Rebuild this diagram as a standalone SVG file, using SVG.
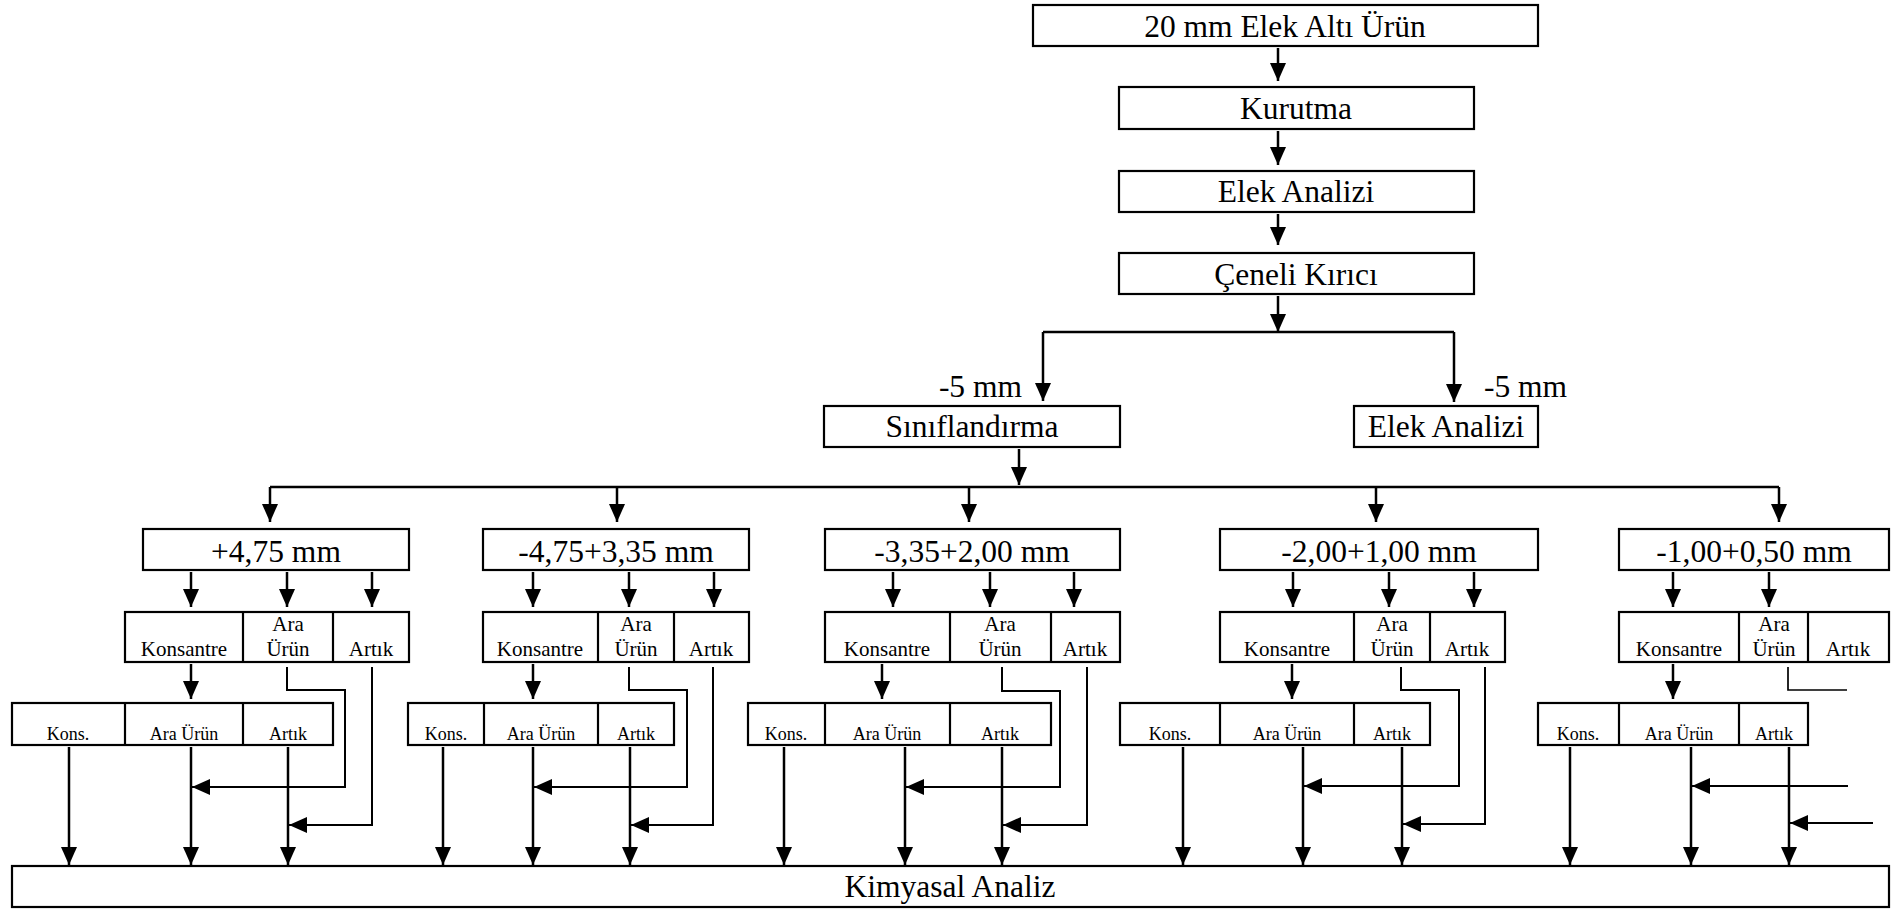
<svg xmlns="http://www.w3.org/2000/svg" width="1903" height="911" viewBox="0 0 1903 911">
  <defs>
    <marker id="ah" viewBox="0 0 18 16" refX="18" refY="8" markerWidth="18" markerHeight="16" markerUnits="userSpaceOnUse" orient="auto">
      <path d="M0,0 L18,8 L0,16 z" fill="#000"/>
    </marker>
    <style>
      .box { fill: #fff; stroke: #000; stroke-width: 2.2; }
      .div { stroke: #000; stroke-width: 2.2; }
      .t { font-family: "Liberation Serif", "Times New Roman", serif; fill: #000; text-anchor: middle; }
      .lg { font-size: 31.5px; }
      .md { font-size: 21px; }
      .sm { font-size: 18px; }
      .arr { fill: none; stroke: #000; stroke-width: 2.5; marker-end: url(#ah); }
      .ln { fill: none; stroke: #000; stroke-width: 2.4; }
      .route { fill: none; stroke: #000; stroke-width: 1.7; }
      .routeArr { fill: none; stroke: #000; stroke-width: 2; marker-end: url(#ah); }
    </style>
  </defs>
  <rect width="1903" height="911" fill="#fff"/>

  <!-- connectors -->
  <g id="connectors">
    <!-- main process chain -->
    <path class="arr" d="M1278,48 V81"/>
    <path class="arr" d="M1278,131 V165"/>
    <path class="arr" d="M1278,214 V245"/>
    <path class="arr" d="M1278,296 V332"/>
    <path class="ln" d="M1043,332 H1454"/>
    <path class="arr" d="M1043,332 V401"/>
    <path class="arr" d="M1454,332 V402"/>
    <path class="arr" d="M1019,449 V485"/>
    <path class="ln" d="M270,487 H1779"/>
    <path class="arr" d="M270,487 V522"/>
    <path class="arr" d="M617,487 V522"/>
    <path class="arr" d="M969,487 V522"/>
    <path class="arr" d="M1376,487 V522"/>
    <path class="arr" d="M1779,487 V522"/>

    <!-- size fraction to products -->
    <path class="arr" d="M191,572 V607"/>
    <path class="arr" d="M287,572 V607"/>
    <path class="arr" d="M372,572 V607"/>
    <path class="arr" d="M533,572 V607"/>
    <path class="arr" d="M629,572 V607"/>
    <path class="arr" d="M714,572 V607"/>
    <path class="arr" d="M893,572 V607"/>
    <path class="arr" d="M990,572 V607"/>
    <path class="arr" d="M1074,572 V607"/>
    <path class="arr" d="M1293,572 V607"/>
    <path class="arr" d="M1389,572 V607"/>
    <path class="arr" d="M1474,572 V607"/>
    <path class="arr" d="M1673,572 V607"/>
    <path class="arr" d="M1769,572 V607"/>

    <!-- concentrate to cleaning stage -->
    <path class="arr" d="M191,664 V699"/>
    <path class="arr" d="M533,664 V699"/>
    <path class="arr" d="M882,664 V699"/>
    <path class="arr" d="M1292,664 V699"/>
    <path class="arr" d="M1673,664 V699"/>

    <!-- cleaning products to chemical analysis -->
    <path class="arr" d="M69,747 V865"/>
    <path class="arr" d="M191,747 V865"/>
    <path class="arr" d="M288,747 V865"/>
    <path class="arr" d="M443,747 V865"/>
    <path class="arr" d="M533,747 V865"/>
    <path class="arr" d="M630,747 V865"/>
    <path class="arr" d="M784,747 V865"/>
    <path class="arr" d="M905,747 V865"/>
    <path class="arr" d="M1002,747 V865"/>
    <path class="arr" d="M1183,747 V865"/>
    <path class="arr" d="M1303,747 V865"/>
    <path class="arr" d="M1402,747 V865"/>
    <path class="arr" d="M1570,747 V865"/>
    <path class="arr" d="M1691,747 V865"/>
    <path class="arr" d="M1789,747 V865"/>

    <!-- middlings and tailings bypass lines -->
    <path class="routeArr" d="M287,667 V690 H345 V787 H192"/>
    <path class="routeArr" d="M372,667 V825 H289"/>
    <path class="routeArr" d="M629,667 V690 H687 V787 H534"/>
    <path class="routeArr" d="M713,667 V825 H631"/>
    <path class="routeArr" d="M1002,667 V691 H1060 V787 H906"/>
    <path class="routeArr" d="M1087,667 V825 H1003"/>
    <path class="routeArr" d="M1401,667 V690 H1459 V786 H1304"/>
    <path class="routeArr" d="M1485,667 V824 H1403"/>
    <path class="route" d="M1788,667 V690 H1847"/>
    <path class="routeArr" d="M1848,786 H1692"/>
    <path class="routeArr" d="M1873,823 H1790"/>
  </g>

  <!-- main chain nodes -->
  <g id="n-feed">
    <rect class="box" x="1033" y="5" width="505" height="41"/>
    <text class="t lg" x="1285" y="37">20 mm Elek Altı Ürün</text>
  </g>
  <g id="n-drying">
    <rect class="box" x="1119" y="87" width="355" height="42"/>
    <text class="t lg" x="1296" y="119">Kurutma</text>
  </g>
  <g id="n-sieve1">
    <rect class="box" x="1119" y="171" width="355" height="41"/>
    <text class="t lg" x="1296" y="202">Elek Analizi</text>
  </g>
  <g id="n-crusher">
    <rect class="box" x="1119" y="253" width="355" height="41"/>
    <text class="t lg" x="1296" y="285">Çeneli Kırıcı</text>
  </g>
  <g id="n-label-left">
    <text class="t lg" x="1022" y="397" style="text-anchor:end">-5 mm</text>
  </g>
  <g id="n-label-right">
    <text class="t lg" x="1484" y="397" style="text-anchor:start">-5 mm</text>
  </g>
  <g id="n-classify">
    <rect class="box" x="824" y="406" width="296" height="41"/>
    <text class="t lg" x="972" y="437">Sınıflandırma</text>
  </g>
  <g id="n-sieve2">
    <rect class="box" x="1354" y="406" width="184" height="41"/>
    <text class="t lg" x="1446" y="437">Elek Analizi</text>
  </g>

  <!-- size fractions -->
  <g id="n-f1">
    <rect class="box" x="143" y="529" width="266" height="41"/>
    <text class="t lg" x="276" y="562">+4,75 mm</text>
  </g>
  <g id="n-f2">
    <rect class="box" x="483" y="529" width="266" height="41"/>
    <text class="t lg" x="616" y="562">-4,75+3,35 mm</text>
  </g>
  <g id="n-f3">
    <rect class="box" x="825" y="529" width="295" height="41"/>
    <text class="t lg" x="972" y="562">-3,35+2,00 mm</text>
  </g>
  <g id="n-f4">
    <rect class="box" x="1220" y="529" width="318" height="41"/>
    <text class="t lg" x="1379" y="562">-2,00+1,00 mm</text>
  </g>
  <g id="n-f5">
    <rect class="box" x="1619" y="529" width="270" height="41"/>
    <text class="t lg" x="1754" y="562">-1,00+0,50 mm</text>
  </g>

  <!-- separation products -->
  <g id="n-p1">
    <rect class="box" x="125" y="612" width="284" height="50"/>
    <line class="div" x1="243" y1="612" x2="243" y2="662"/>
    <line class="div" x1="333" y1="612" x2="333" y2="662"/>
    <text class="t md" x="184" y="656">Konsantre</text>
    <text class="t md" x="288" y="631">Ara</text>
    <text class="t md" x="288" y="656">Ürün</text>
    <text class="t md" x="371" y="656">Artık</text>
  </g>
  <g id="n-p2">
    <rect class="box" x="483" y="612" width="266" height="50"/>
    <line class="div" x1="598" y1="612" x2="598" y2="662"/>
    <line class="div" x1="674" y1="612" x2="674" y2="662"/>
    <text class="t md" x="540" y="656">Konsantre</text>
    <text class="t md" x="636" y="631">Ara</text>
    <text class="t md" x="636" y="656">Ürün</text>
    <text class="t md" x="711" y="656">Artık</text>
  </g>
  <g id="n-p3">
    <rect class="box" x="825" y="612" width="295" height="50"/>
    <line class="div" x1="950" y1="612" x2="950" y2="662"/>
    <line class="div" x1="1051" y1="612" x2="1051" y2="662"/>
    <text class="t md" x="887" y="656">Konsantre</text>
    <text class="t md" x="1000" y="631">Ara</text>
    <text class="t md" x="1000" y="656">Ürün</text>
    <text class="t md" x="1085" y="656">Artık</text>
  </g>
  <g id="n-p4">
    <rect class="box" x="1220" y="612" width="285" height="50"/>
    <line class="div" x1="1354" y1="612" x2="1354" y2="662"/>
    <line class="div" x1="1430" y1="612" x2="1430" y2="662"/>
    <text class="t md" x="1287" y="656">Konsantre</text>
    <text class="t md" x="1392" y="631">Ara</text>
    <text class="t md" x="1392" y="656">Ürün</text>
    <text class="t md" x="1467" y="656">Artık</text>
  </g>
  <g id="n-p5">
    <rect class="box" x="1619" y="612" width="270" height="50"/>
    <line class="div" x1="1739" y1="612" x2="1739" y2="662"/>
    <line class="div" x1="1808" y1="612" x2="1808" y2="662"/>
    <text class="t md" x="1679" y="656">Konsantre</text>
    <text class="t md" x="1774" y="631">Ara</text>
    <text class="t md" x="1774" y="656">Ürün</text>
    <text class="t md" x="1848" y="656">Artık</text>
  </g>

  <!-- cleaning stage products -->
  <g id="n-c1">
    <rect class="box" x="12" y="703" width="321" height="42"/>
    <line class="div" x1="125" y1="703" x2="125" y2="745"/>
    <line class="div" x1="243" y1="703" x2="243" y2="745"/>
    <text class="t sm" x="68" y="740">Kons.</text>
    <text class="t sm" x="184" y="740">Ara Ürün</text>
    <text class="t sm" x="288" y="740">Artık</text>
  </g>
  <g id="n-c2">
    <rect class="box" x="408" y="703" width="266" height="42"/>
    <line class="div" x1="484" y1="703" x2="484" y2="745"/>
    <line class="div" x1="598" y1="703" x2="598" y2="745"/>
    <text class="t sm" x="446" y="740">Kons.</text>
    <text class="t sm" x="541" y="740">Ara Ürün</text>
    <text class="t sm" x="636" y="740">Artık</text>
  </g>
  <g id="n-c3">
    <rect class="box" x="748" y="703" width="303" height="42"/>
    <line class="div" x1="825" y1="703" x2="825" y2="745"/>
    <line class="div" x1="950" y1="703" x2="950" y2="745"/>
    <text class="t sm" x="786" y="740">Kons.</text>
    <text class="t sm" x="887" y="740">Ara Ürün</text>
    <text class="t sm" x="1000" y="740">Artık</text>
  </g>
  <g id="n-c4">
    <rect class="box" x="1120" y="703" width="310" height="42"/>
    <line class="div" x1="1220" y1="703" x2="1220" y2="745"/>
    <line class="div" x1="1354" y1="703" x2="1354" y2="745"/>
    <text class="t sm" x="1170" y="740">Kons.</text>
    <text class="t sm" x="1287" y="740">Ara Ürün</text>
    <text class="t sm" x="1392" y="740">Artık</text>
  </g>
  <g id="n-c5">
    <rect class="box" x="1538" y="703" width="270" height="42"/>
    <line class="div" x1="1619" y1="703" x2="1619" y2="745"/>
    <line class="div" x1="1739" y1="703" x2="1739" y2="745"/>
    <text class="t sm" x="1578" y="740">Kons.</text>
    <text class="t sm" x="1679" y="740">Ara Ürün</text>
    <text class="t sm" x="1774" y="740">Artık</text>
  </g>

  <!-- chemical analysis -->
  <g id="n-chem">
    <rect class="box" x="12" y="866" width="1877" height="41"/>
    <text class="t lg" x="950" y="897">Kimyasal Analiz</text>
  </g>
</svg>
